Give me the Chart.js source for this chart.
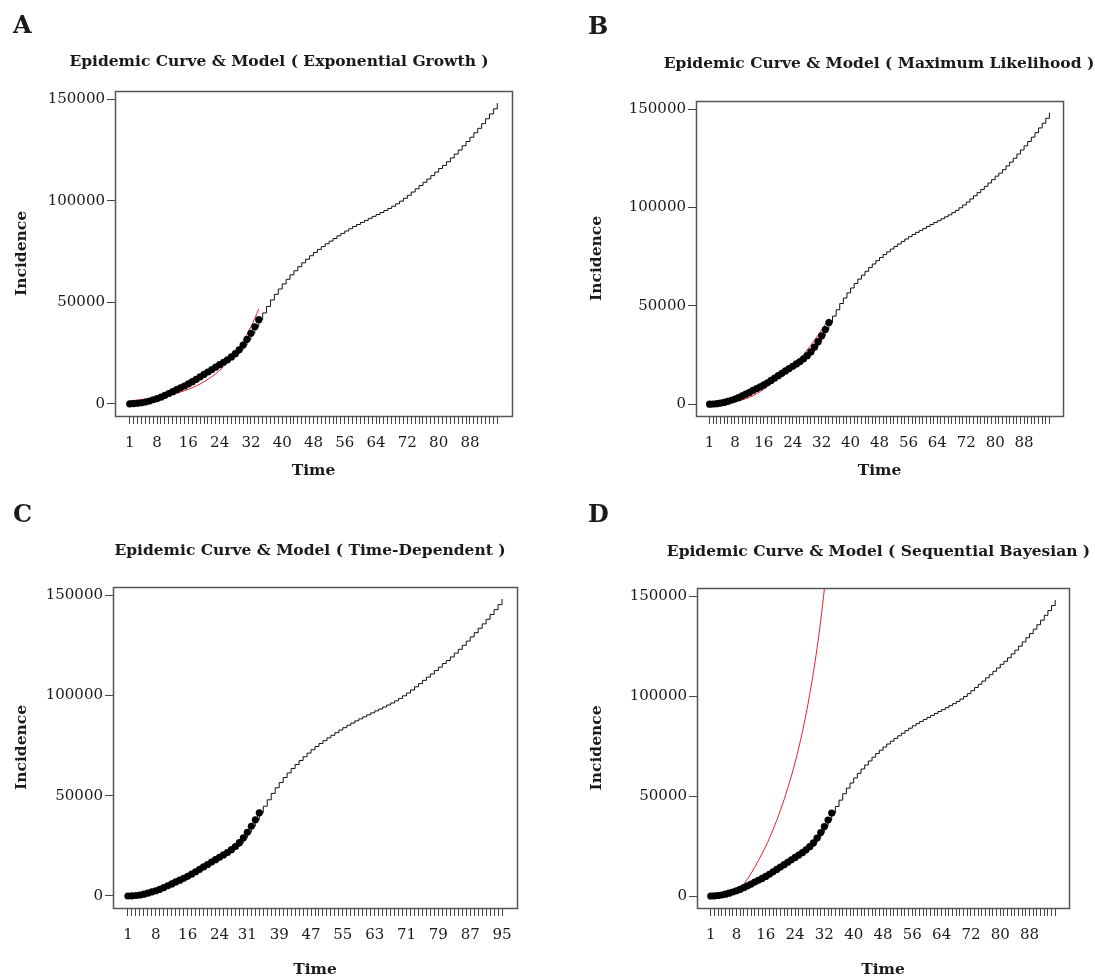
<!DOCTYPE html>
<html>
<head>
<meta charset="utf-8">
<script src="https://cdn.jsdelivr.net/npm/chart.js@4.4.1/dist/chart.umd.min.js"></script>
<style>
  body { margin: 0; background: #fff; width: 1095px; height: 977px; overflow: hidden; position: relative; }
  canvas { position: absolute; }
</style>
</head>
<body>
<canvas id="pA" width="545" height="490" style="left:0;top:0"></canvas>
<canvas id="pB" width="622" height="490" style="left:548px;top:0"></canvas>
<canvas id="pC" width="607" height="490" style="left:0;top:490px"></canvas>
<canvas id="pD" width="621" height="490" style="left:548px;top:490px"></canvas>
<script>
// cumulative incidence, day 1 .. 95
const incidence = [
  0, 100, 250, 500, 900, 1400, 2000, 2600, 3300, 4200,
  5100, 6000, 7000, 7900, 8800, 9800, 10900, 12100, 13300, 14500,
  15700, 16900, 18100, 19300, 20500, 21700, 23100, 24700, 26600, 29000,
  31800, 34800, 38000, 41500, 44800, 48000, 51200, 54000, 56600, 59100,
  61400, 63600, 65600, 67600, 69500, 71300, 73000, 74600, 76100, 77500,
  78900, 80200, 81500, 82800, 84000, 85200, 86300, 87400, 88400, 89400,
  90400, 91400, 92400, 93300, 94300, 95300, 96300, 97400, 98600, 99900,
  101300, 102800, 104400, 106000, 107600, 109200, 110800, 112500, 114200, 116000,
  117500, 119300, 121200, 123100, 125100, 127200, 129300, 131400, 133600, 135800,
  138100, 140500, 142900, 145400, 148200
];
const observedDays = 34;   // days drawn as dots (fitting window)

// model curves (start day + values)
const expGrowthStart = 1;
const expGrowth = [
  1500, 1670, 1850, 2050, 2280, 2530, 2800, 3110, 3450, 3830,
  4250, 4720, 5240, 5820, 6460, 7160, 7950, 8830, 9790, 10870,
  12070, 13390, 14860, 16490, 18310, 20320, 22550, 25030, 27780, 30830,
  34220, 37970, 42150, 46780
];
const maxLikStart = 1;
const maxLik = [
  100, 200, 300, 400, 550, 750, 1000, 1300, 1700, 2200,
  2800, 3500, 4300, 5300, 6400, 7700, 9000, 10400, 11900, 13400,
  15000, 16600, 18200, 19600, 21300, 23200, 25300, 27600, 30000, 32500,
  35100, 37800, 40600, 43500
];
const timeDepStart = 1;
const timeDep = [
  0, 150, 400, 750, 1150, 1600, 2150, 2750, 3400, 4150,
  5000, 5900, 6850, 7800, 8800, 9850, 10950, 12100, 13300, 14500,
  15700, 16900, 18100, 19300, 20500, 21800, 23200, 24800, 26700, 29000,
  31700, 34700, 37900, 41200
];
const seqBayesStart = 9;
const seqBayes = [
  3700, 5900, 8500, 11300, 14400, 17700, 21200, 24900, 28900, 33300,
  37900, 42900, 48200, 54000, 60100, 66800, 74100, 82200, 91100, 100900,
  111800, 124000, 137800, 153700, 171700
];

const timeLabels = [1, 8, 16, 24, 32, 40, 48, 56, 64, 72, 80, 88];
const timeLabelsC = [1, 8, 16, 24, 31, 39, 47, 55, 63, 71, 79, 87, 95];
const incidenceTicks = [0, 50000, 100000, 150000];

const FONT = "'DejaVu Serif', serif";
const INK = '#1a1a1a';

const frame = {
  id: 'frame',
  afterDraw(chart) {
    const a = chart.chartArea, c = chart.ctx;
    c.save();
    c.strokeStyle = '#555';
    c.lineWidth = 1.5;
    c.strokeRect(Math.round(a.left) + 0.5, Math.round(a.top) + 0.5,
                 Math.round(a.right - a.left), Math.round(a.bottom - a.top));
    c.restore();
  }
};

function toPoints(vals, start) {
  return vals.map((v, i) => ({ x: start + i, y: v }));
}

function panel(id, o) {
  const days = incidence.map((v, i) => i + 1);
  new Chart(document.getElementById(id), {
    type: 'line',
    data: {
      datasets: [
        {
          data: toPoints(incidence.slice(0, observedDays), 1),
          showLine: false,
          pointRadius: 3.6,
          pointBackgroundColor: '#000',
          pointBorderWidth: 0
        },
        {
          data: toPoints(o.model, o.modelStart),
          borderColor: '#e8202a',
          borderWidth: 1,
          pointRadius: 0,
          cubicInterpolationMode: 'monotone'
        },
        {
          data: toPoints(incidence, 1),
          stepped: true,
          borderColor: '#111',
          borderWidth: 1,
          pointRadius: 0
        }
      ]
    },
    options: {
      responsive: false,
      animation: false,
      layout: { padding: { left: o.pl, right: 0, top: 0, bottom: 0 } },
      scales: {
        x: {
          type: 'linear',
          min: -2.76,
          max: 98.76,
          afterBuildTicks: s => { s.ticks = days.map(d => ({ value: d })); },
          afterFit: s => { s.height = o.xh; },
          ticks: {
            autoSkip: false,
            maxRotation: 0,
            minRotation: 0,
            padding: 10,
            color: INK,
            font: { family: FONT, size: 15 },
            callback: v => (o.labels.includes(v) ? String(v) : '')
          },
          grid: { drawOnChartArea: false, tickLength: 8, color: '#444' },
          border: { display: false },
          title: {
            display: true,
            text: 'Time',
            color: INK,
            font: { family: FONT, size: 15.5, weight: 'bold' },
            padding: { top: 0, bottom: o.tb }
          }
        },
        y: {
          type: 'linear',
          min: -6000,
          max: 154200,
          afterBuildTicks: s => { s.ticks = incidenceTicks.map(v => ({ value: v })); },
          afterFit: s => { s.width = o.yw; },
          ticks: {
            padding: 2,
            color: INK,
            font: { family: FONT, size: 15 },
            callback: v => String(v)
          },
          grid: { drawOnChartArea: false, tickLength: 8, color: '#444' },
          border: { display: false },
          title: {
            display: true,
            text: 'Incidence',
            color: INK,
            font: { family: FONT, size: 15.5, weight: 'bold' },
            padding: { top: 0, bottom: 0 }
          }
        },
        // empty right-hand margin so the title can be centred like the original
        margin: {
          type: 'linear',
          position: 'right',
          afterFit: s => { s.width = o.rw; },
          ticks: { display: false },
          grid: { display: false },
          border: { display: false }
        }
      },
      plugins: {
        legend: { display: false },
        tooltip: { enabled: false },
        title: {
          display: true,
          text: o.letter,
          align: 'start',
          color: INK,
          font: { family: FONT, size: 24, weight: 'bold' },
          padding: { top: o.lt, bottom: 0 }
        },
        subtitle: {
          display: true,
          text: o.title,
          color: INK,
          font: { family: FONT, size: 15.5, weight: 'bold' },
          padding: { top: o.st, bottom: o.sb }
        }
      }
    },
    plugins: [frame]
  });
}

panel('pA', {
  letter: 'A', title: 'Epidemic Curve & Model ( Exponential Growth )',
  model: expGrowth, modelStart: expGrowthStart, labels: timeLabels,
  pl: 13, yw: 102, rw: 33, xh: 74, lt: 12.6, st: 11.3, sb: 19.7, tb: 9.7
});
panel('pB', {
  letter: 'B', title: 'Epidemic Curve & Model ( Maximum Likelihood )',
  model: maxLik, modelStart: maxLikStart, labels: timeLabels,
  pl: 40, yw: 108, rw: 107, xh: 74, lt: 13.6, st: 12.3, sb: 27.7, tb: 9.7
});
panel('pC', {
  letter: 'C', title: 'Epidemic Curve & Model ( Time-Dependent )',
  model: timeDep, modelStart: timeDepStart, labels: timeLabelsC,
  pl: 13, yw: 100, rw: 90, xh: 72, lt: 11.6, st: 11.3, sb: 26.7, tb: 0.7
});
panel('pD', {
  letter: 'D', title: 'Epidemic Curve & Model ( Sequential Bayesian )',
  model: seqBayes, modelStart: seqBayesStart, labels: timeLabels,
  pl: 40, yw: 109, rw: 100, xh: 72, lt: 11.6, st: 12.3, sb: 26.7, tb: 0.7
});
</script>
</body>
</html>
